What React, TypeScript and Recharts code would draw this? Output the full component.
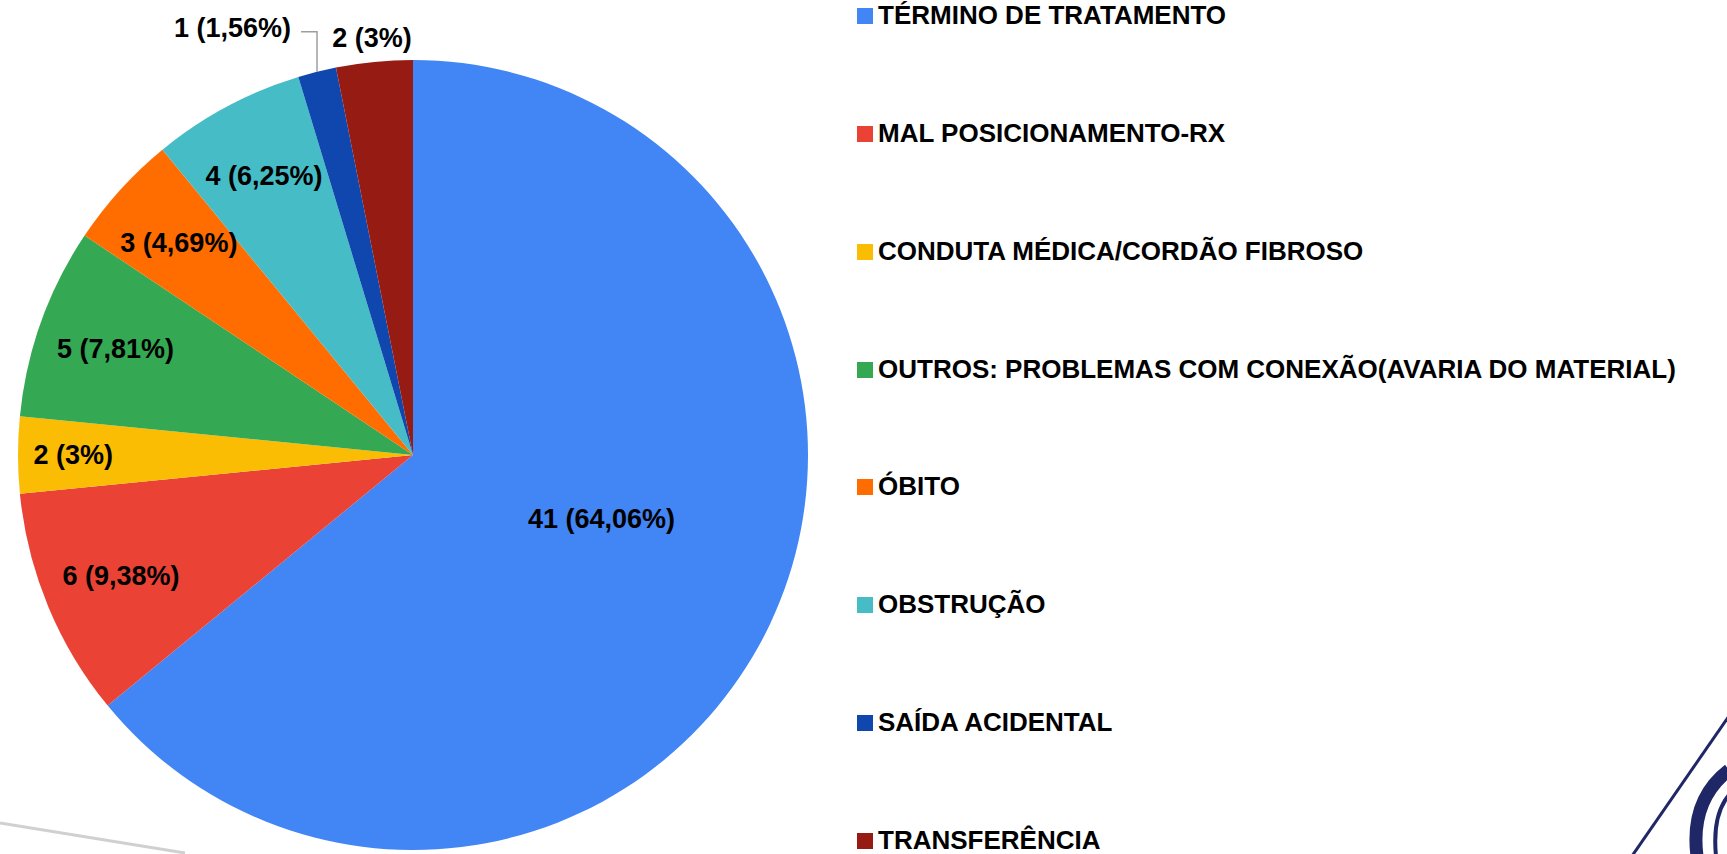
import React from 'react';
import { PieChart, Pie, Cell, Legend } from 'recharts';

const categories = [
  'TÉRMINO DE TRATAMENTO',
  'MAL POSICIONAMENTO-RX',
  'CONDUTA MÉDICA/CORDÃO FIBROSO',
  'OUTROS: PROBLEMAS COM CONEXÃO(AVARIA DO MATERIAL)',
  'ÓBITO',
  'OBSTRUÇÃO',
  'SAÍDA ACIDENTAL',
  'TRANSFERÊNCIA',
];
const values = [41, 6, 2, 5, 3, 4, 1, 2];
const sliceLabels = ['41 (64,06%)', '6 (9,38%)', '2 (3%)', '5 (7,81%)', '3 (4,69%)', '4 (6,25%)', '1 (1,56%)', '2 (3%)'];
const colors = ['#4285F4', '#EA4335', '#FBBC04', '#34A853', '#FF6D01', '#46BDC6', '#0F47AF', '#961B13'];

const data = categories.map((name, i) => ({ name, value: values[i], label: sliceLabels[i] }));

const FONT = '"Liberation Sans", Arial, Helvetica, sans-serif';
const RAD = Math.PI / 180;
const ROW = 117.86;

const renderLabel = (p: any) => {
  const { cx, cy, midAngle, outerRadius, percent, index } = p;
  const cos = Math.cos(-midAngle * RAD);
  const sin = Math.sin(-midAngle * RAD);
  const norm = ((midAngle % 360) + 360) % 360;
  const text = sliceLabels[index];
  const common = {
    fill: '#000',
    fontFamily: FONT,
    fontWeight: 700,
    fontSize: 27,
    dominantBaseline: 'central' as const,
  };
  if (percent < 0.02) {
    const ex = cx + outerRadius * cos;
    const ey = cy + outerRadius * sin;
    const ty = ey - 40;
    return (
      <g key={`l${index}`}>
        <polyline points={`${ex},${ey} ${ex},${ty} ${ex - 16},${ty}`} stroke="#9e9e9e" strokeWidth={1.5} fill="none" />
        <text x={ex - 26} y={ty - 4} textAnchor="end" {...common}>{text}</text>
      </g>
    );
  }
  if (percent < 0.04 && norm > 60 && norm < 120) {
    const r = outerRadius + 24;
    return (
      <text key={`l${index}`} x={cx + r * cos} y={cy + r * sin} textAnchor="middle" {...common}>{text}</text>
    );
  }
  const f = percent > 0.5 ? 0.5 : percent < 0.04 ? 0.86 : 0.8;
  const r = outerRadius * f;
  return (
    <text key={`l${index}`} x={cx + r * cos + (percent > 0.5 ? 10 : 0)} y={cy + r * sin - (percent > 0.5 ? 20 : 0)} textAnchor="middle" {...common}>{text}</text>
  );
};

const renderLegend = (props: any) => {
  const payload = [...(props.payload || [])].sort(
    (a: any, b: any) => categories.indexOf(a.value) - categories.indexOf(b.value)
  );
  return (
    <div style={{ fontFamily: FONT, position: 'relative', height: 26 + ROW * (payload.length - 1) }}>
      {payload.map((e: any, i: number) => (
        <div key={i} style={{ position: 'absolute', left: 0, top: i * ROW, height: 26, display: 'flex', alignItems: 'center' }}>
          <span style={{ display: 'inline-block', width: 16, height: 16, background: e.color, marginRight: 5, marginTop: 2 }} />
          <span style={{ fontSize: 26, fontWeight: 700, color: '#000', lineHeight: '26px', whiteSpace: 'nowrap' }}>{e.value}</span>
        </div>
      ))}
    </div>
  );
};

export default function App() {
  return (
    <div style={{ position: 'absolute', left: 0, top: 0, width: 1727, height: 854, background: '#fff', overflow: 'hidden' }}>
      <svg width={1727} height={854} style={{ position: 'absolute', left: 0, top: 0 }}>
        <line x1={0} y1={823} x2={185} y2={853} stroke="#d0d0d0" strokeWidth={3} />
        <line x1={1632} y1={856} x2={1729} y2={716} stroke="#1f2766" strokeWidth={3} />
        <path d="M1729,770 Q1690,800 1697,856" stroke="#1f2766" strokeWidth={13} fill="none" />
        <path d="M1729,795 Q1712,815 1716,856" stroke="#1f2766" strokeWidth={4} fill="none" />
      </svg>
      <div style={{ position: 'absolute', left: 0, top: 0 }}>
        <PieChart width={1727} height={854} margin={{ top: 0, right: 0, bottom: 0, left: 0 }}>
          <Pie
            data={data}
            dataKey="value"
            nameKey="name"
            cx={413}
            cy={455}
            outerRadius={395}
            startAngle={90}
            endAngle={-270}
            stroke="none"
            label={renderLabel}
            labelLine={false}
            isAnimationActive={false}
          >
            {data.map((d, i) => (
              <Cell key={d.name} fill={colors[i]} />
            ))}
          </Pie>
          <Legend
            layout="vertical"
            align="right"
            verticalAlign="top"
            itemSorter={null as any}
            content={renderLegend}
            wrapperStyle={{ position: 'absolute', left: 857, top: 2, width: 870 }}
          />
        </PieChart>
      </div>
    </div>
  );
}
